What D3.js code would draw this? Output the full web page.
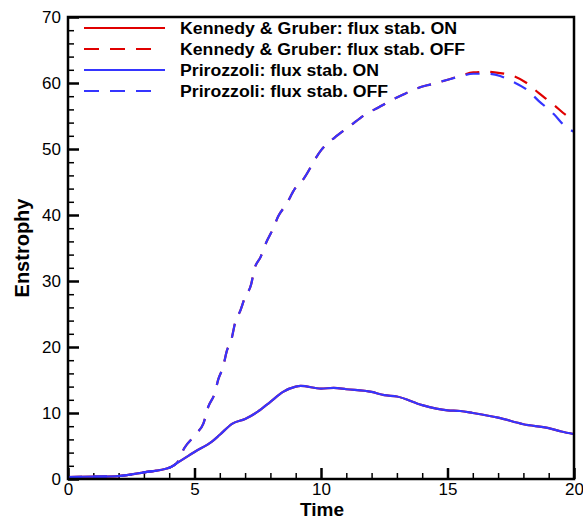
<!DOCTYPE html>
<html lang="en">
<head>
<meta charset="UTF-8">
<title>Enstrophy vs Time</title>
<script src="https://d3js.org/d3.v7.min.js"></script>
<style>
  html, body { margin: 0; padding: 0; background: #fff; }
  svg text { font-family: "Liberation Sans", Arial, Helvetica, sans-serif; fill: #000; }
</style>
</head>
<body>
<div id="chart"></div>
<script>
// time samples and enstrophy
const timeLow = [0, 1, 2, 3, 4, 4.3, 5, 5.7, 6, 6.5, 7, 7.5, 8, 8.5, 9, 9.2, 10, 10.5, 11, 12, 12.5, 13, 14, 15, 15.5, 16, 17, 18, 19, 19.5, 20];
const prirozzoliOn = [0.3, 0.35, 0.45, 1.0, 1.7, 2.4, 4.1, 5.7, 6.7, 8.4, 9.1, 10.2, 11.7, 13.2, 14.0, 14.1, 13.7, 13.8, 13.6, 13.2, 12.7, 12.5, 11.2, 10.4, 10.3, 10.0, 9.3, 8.3, 7.7, 7.2, 6.8];
const kennedyOn = [0.3, 0.35, 0.45, 1.0, 1.7, 2.4, 4.1, 5.7, 6.7, 8.4, 9.1, 10.2, 11.7, 13.2, 14.0, 14.1, 13.7, 13.8, 13.6, 13.2, 12.7, 12.5, 11.2, 10.4, 10.3, 10.0, 9.3, 8.3, 7.7, 7.2, 6.8];

const timeHigh = [0, 1, 2, 3, 4, 4.3, 4.6, 5.08, 5.35, 5.55, 5.8, 5.94, 6.13, 6.27, 6.47, 6.6, 6.82, 7.0, 7.24, 7.36, 7.62, 7.83, 8.09, 8.31, 8.64, 8.97, 9.24, 10, 10.66, 11.15, 11.74, 12.27, 12.79, 13.28, 13.81, 14.34, 14.97, 15.49, 16.02, 16.55, 17.08, 17.58, 18.13, 18.6, 19.2, 19.66, 20];
const kennedyOff = [0.3, 0.35, 0.45, 1.0, 1.7, 2.4, 4.7, 6.9, 8.4, 11.0, 13.0, 15.1, 17.0, 19.3, 21.3, 23.6, 25.6, 27.6, 29.5, 31.7, 33.7, 35.8, 37.8, 39.8, 41.7, 44.0, 45.1, 49.8, 52.1, 53.5, 55.2, 56.3, 57.4, 58.3, 59.2, 59.8, 60.45, 61.06, 61.6, 61.7, 61.5, 61.1, 60.0, 58.5, 56.7, 55.2, 54.4];
const prirozzoliOff = [0.3, 0.35, 0.45, 1.0, 1.7, 2.4, 4.7, 6.9, 8.4, 11.0, 13.0, 15.1, 17.0, 19.3, 21.3, 23.6, 25.6, 27.6, 29.5, 31.7, 33.7, 35.8, 37.8, 39.8, 41.7, 44.0, 45.1, 49.8, 52.1, 53.5, 55.2, 56.3, 57.4, 58.3, 59.2, 59.8, 60.45, 61.0, 61.4, 61.4, 61.06, 60.2, 59.0, 57.3, 55.3, 53.4, 52.6];

const xTicks = [0, 5, 10, 15, 20];
const yTicks = [0, 10, 20, 30, 40, 50, 60, 70];
const legendLabels = [
  "Kennedy & Gruber: flux stab. ON",
  "Kennedy & Gruber: flux stab. OFF",
  "Prirozzoli: flux stab. ON",
  "Prirozzoli: flux stab. OFF"
];
const legendWidths = [277, 285, 199, 208];

const W = 583, H = 519;
const margin = {top: 17, right: 9, bottom: 40, left: 68};
const width = W - margin.left - margin.right;
const height = H - margin.top - margin.bottom;

const RED = "#e00000", BLUE = "#3535ff";

const svg = d3.select("#chart").append("svg")
  .attr("width", W).attr("height", H);
const g = svg.append("g").attr("transform", `translate(${margin.left},${margin.top})`);

const x = d3.scaleLinear().domain([0, 20]).range([0, width]);
const y = d3.scaleLinear().domain([0, 70]).range([height, 0]);

svg.append("defs").append("clipPath").attr("id", "clip")
  .append("rect").attr("width", width).attr("height", height);

// axes: ticks pointing inward
const xMajor = d3.axisBottom(x).tickValues(xTicks).tickSize(-11).tickPadding(4).tickFormat(d3.format("d"));
const xMinor = d3.axisBottom(x).tickValues(d3.range(0, 21, 1).filter(d => d % 5)).tickSize(-6).tickFormat("");
const yMajor = d3.axisLeft(y).tickValues(yTicks).tickSize(-11).tickPadding(7).tickFormat(d3.format("d"));
const yMinor = d3.axisLeft(y).tickValues(d3.range(0, 71, 2).filter(d => d % 10)).tickSize(-6).tickFormat("");

function styleAxis(sel) {
  sel.select(".domain").remove();
  sel.selectAll("line").attr("stroke", "#000").attr("stroke-width", 1.5);
  sel.selectAll("text").style("font-size", "17px");
}

g.append("g").attr("transform", `translate(0,${height})`).call(xMinor).call(styleAxis);
g.append("g").attr("transform", `translate(0,${height})`).call(xMajor).call(styleAxis)
  .selectAll("line").attr("stroke-width", 2.5);
g.append("g").call(yMinor).call(styleAxis);
g.append("g").call(yMajor).call(styleAxis)
  .selectAll("line").attr("stroke-width", 2.5);

// series
const line = d3.line().x(d => x(d[0])).y(d => y(d[1])).curve(d3.curveMonotoneX);
const series = [
  {t: timeLow, v: kennedyOn, color: RED, dash: null},
  {t: timeHigh, v: kennedyOff, color: RED, dash: "14,11"},
  {t: timeLow, v: prirozzoliOn, color: BLUE, dash: null},
  {t: timeHigh, v: prirozzoliOff, color: BLUE, dash: "14,11"}
];
const plot = g.append("g").attr("clip-path", "url(#clip)");
series.forEach(s => {
  plot.append("path")
    .datum(s.t.map((t, i) => [t, s.v[i]]))
    .attr("d", line)
    .attr("fill", "none")
    .attr("stroke", s.color)
    .attr("stroke-width", 2.2)
    .attr("stroke-dasharray", s.dash);
});

// frame
g.append("rect").attr("width", width).attr("height", height)
  .attr("fill", "none").attr("stroke", "#000").attr("stroke-width", 2.5);

// legend
const leg = g.append("g").attr("transform", "translate(16,11)");
legendLabels.forEach((label, i) => {
  const s = series[i];
  const row = leg.append("g").attr("transform", `translate(0,${i * 21})`);
  row.append("line").attr("x1", 0).attr("x2", s.dash ? 70 : 81)
    .attr("stroke", s.color).attr("stroke-width", 2.2)
    .attr("stroke-dasharray", s.dash ? "15,11" : null);
  row.append("text").attr("x", 96).attr("dy", "0.36em")
    .attr("textLength", legendWidths[i]).attr("lengthAdjust", "spacingAndGlyphs")
    .style("font-size", "16px").style("font-weight", "bold").text(label);
});

// axis titles
svg.append("text").attr("x", margin.left + x(10) + 1).attr("y", 515.5)
  .attr("text-anchor", "middle").style("font-size", "19px").style("font-weight", "bold").text("Time");
svg.append("text").attr("transform", `translate(29,${248}) rotate(-90)`)
  .attr("text-anchor", "middle").style("font-size", "20px").style("font-weight", "bold").text("Enstrophy");
</script>
</body>
</html>
